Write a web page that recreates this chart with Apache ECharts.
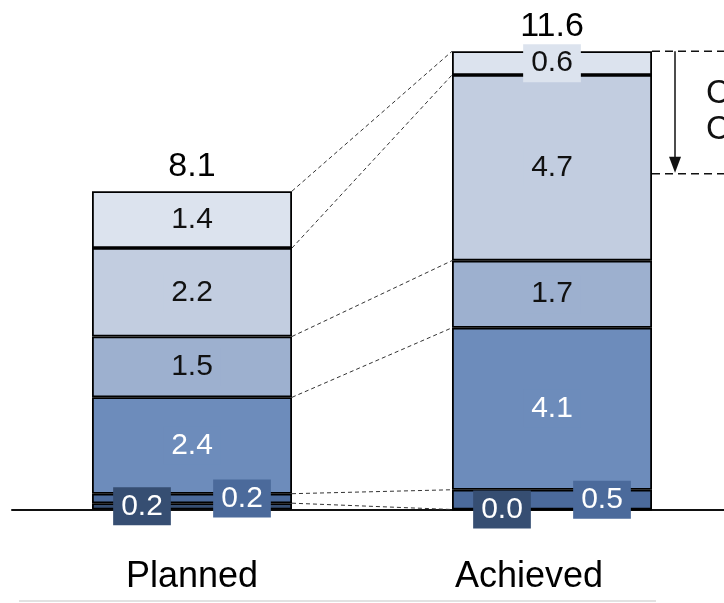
<!DOCTYPE html>
<html>
<head>
<meta charset="utf-8">
<script src="https://cdn.jsdelivr.net/npm/echarts@6/dist/echarts.min.js"></script>
<style>
  html, body { margin: 0; padding: 0; background: #ffffff; }
  #chart { width: 724px; height: 603px; }
</style>
</head>
<body>
<div id="chart"></div>
<script>
// Categories on the x axis
const categories = ['Planned', 'Achieved'];

// Stack segments, listed from the bottom of each column upwards
const segDarkest  = [0.16, 0.0];
const segDark     = [0.24, 0.5];
const segMid      = [2.44, 4.1];
const segSoft     = [1.54, 1.7];
const segLight    = [2.24, 4.7];
const segLightest = [1.44, 0.6];

// Bracket beside the second column: from its top down to this level
const bracketRange = [11.6, 8.5];
const bracketText = ['C', 'C'];

const FONT = '"Liberation Sans", Arial, Helvetica, sans-serif';
const BAR_WIDTH = 200;
const HALF_BAR = BAR_WIDTH / 2;

const segments = [segDarkest, segDark, segMid, segSoft, segLight, segLightest];
const fills = ['#364e72', '#4b6a9b', '#6d8cbb', '#9db0cf', '#c2cde0', '#dce3ee'];
const inks = ['#ffffff', '#ffffff', '#ffffff', '#111111', '#111111', '#111111'];
const labelShift = [[-50, 0], [50, 0], [0, 0], [0, 0], [0, 0], [0, 0]];
// the second category name sits a little left of its column
const categoryPad = [[0, 0, 0, 0], [0, 46, 0, 0]];

// running tops of each segment per column
const tops = [];
segments.forEach((vals, i) => {
  tops.push(vals.map((v, c) => v + (i > 0 ? tops[i - 1][c] : 0)));
});
const totals = tops[tops.length - 1];

const barSeries = segments.map((vals, i) => ({
  type: 'bar',
  stack: 'total',
  barWidth: BAR_WIDTH,
  data: vals,
  itemStyle: { color: fills[i], borderColor: '#000000', borderWidth: 1.8 },
  label: {
    show: true,
    position: 'inside',
    offset: labelShift[i],
    formatter: p => Number(p.value).toFixed(1),
    color: inks[i],
    fontFamily: FONT,
    fontSize: 30,
    lineHeight: 30,
    backgroundColor: fills[i],
    padding: [4, 8]
  },
  emphasis: { disabled: true },
  z: 3
}));

// dashed connectors between matching segment tops of the two columns
const connectorSeries = {
  type: 'custom',
  data: tops.map(t => [0, t[0], t[1]]),
  encode: { x: 0, y: 1 },
  z: 1,
  silent: true,
  renderItem(params, api) {
    const a = api.coord([0, api.value(1)]);
    const b = api.coord([1, api.value(2)]);
    return {
      type: 'line',
      shape: { x1: a[0] + HALF_BAR, y1: a[1], x2: b[0] - HALF_BAR, y2: b[1] },
      style: { stroke: '#333333', lineWidth: 1, lineDash: [4, 3] }
    };
  }
};

// bracket arrow to the right of the second column
const bracketSeries = {
  type: 'custom',
  data: [[1, bracketRange[0], bracketRange[1]]],
  encode: { x: 0, y: 1 },
  z: 4,
  silent: true,
  renderItem(params, api) {
    const top = api.coord([1, api.value(1)]);
    const bot = api.coord([1, api.value(2)]);
    const edge = top[0] + HALF_BAR;
    const ax = top[0] + 123;
    const mid = (top[1] + bot[1]) / 2;
    const dash = { stroke: '#111111', lineWidth: 1.5, lineDash: [8, 5] };
    return {
      type: 'group',
      children: [
        { type: 'line', shape: { x1: edge, y1: top[1], x2: 780, y2: top[1] }, style: dash },
        { type: 'line', shape: { x1: edge, y1: bot[1], x2: 780, y2: bot[1] }, style: dash },
        { type: 'line', shape: { x1: ax, y1: top[1], x2: ax, y2: bot[1] - 14 }, style: { stroke: '#111111', lineWidth: 1.5 } },
        { type: 'polygon', shape: { points: [[ax - 6, bot[1] - 17], [ax + 6, bot[1] - 17], [ax, bot[1] - 1]] }, style: { fill: '#111111' } },
        { type: 'text', x: ax + 31, y: mid - 19, style: { text: bracketText[0], font: '33px ' + FONT, fill: '#111111', verticalAlign: 'middle' } },
        { type: 'text', x: ax + 31, y: mid + 17, style: { text: bracketText[1], font: '33px ' + FONT, fill: '#111111', verticalAlign: 'middle' } }
      ]
    };
  }
};

// column totals written above each stack
const totalSeries = {
  type: 'custom',
  data: totals.map((t, c) => [c, t]),
  encode: { x: 0, y: 1 },
  z: 5,
  silent: true,
  renderItem(params, api) {
    const pt = api.coord([api.value(0), api.value(1)]);
    return {
      type: 'text',
      x: pt[0],
      y: pt[1] - 25,
      style: {
        text: Number(api.value(1)).toFixed(1),
        font: '34px ' + FONT,
        fill: '#000000',
        align: 'center',
        verticalAlign: 'middle'
      }
    };
  }
};

const chart = echarts.init(document.getElementById('chart'), null, { renderer: 'canvas' });
chart.setOption({
  animation: false,
  backgroundColor: '#ffffff',
  grid: { left: 12, width: 720, top: 35.5, height: 474, containLabel: false, outerBoundsMode: 'none' },
  xAxis: {
    type: 'category',
    data: categories.map((name, i) => ({ value: name, textStyle: { padding: categoryPad[i] } })),
    axisLine: { lineStyle: { color: '#111111', width: 2 } },
    axisTick: { show: false },
    axisLabel: { color: '#000000', fontFamily: FONT, fontSize: 36, margin: 50 },
    splitLine: { show: false }
  },
  yAxis: { type: 'value', min: 0, max: 12, show: false },
  series: [connectorSeries, ...barSeries, totalSeries, bracketSeries],
  graphic: [
    { type: 'line', shape: { x1: 19, y1: 601, x2: 656, y2: 601 }, style: { stroke: '#e2e2e2', lineWidth: 2 }, silent: true }
  ]
});
</script>
</body>
</html>
